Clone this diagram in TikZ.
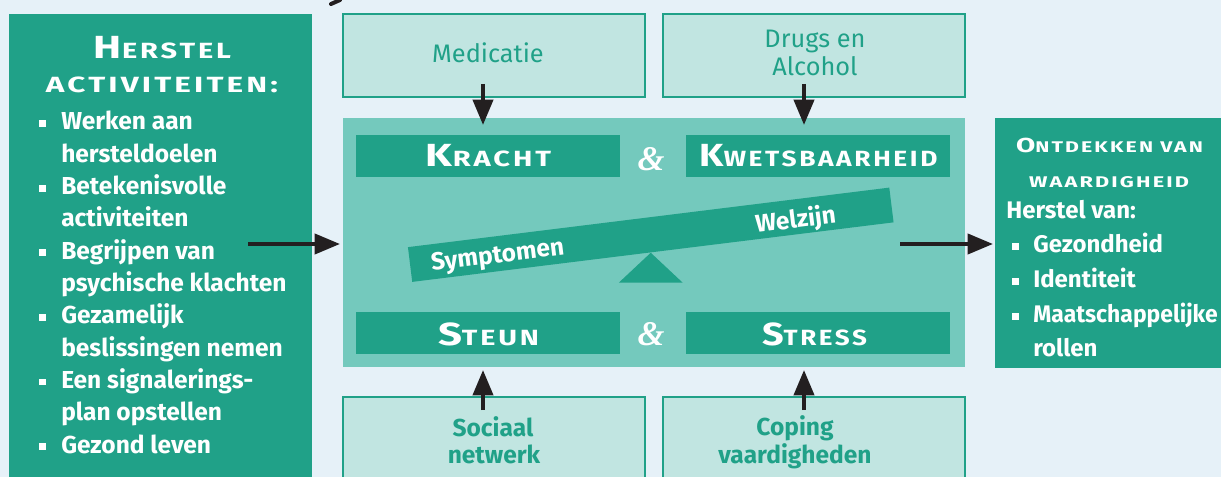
\documentclass[tikz,border=0pt]{standalone}
\usepackage{fontspec}
\usepackage{graphicx}
\setmainfont{Fira Sans}
\newfontfamily\ampf{Liberation Serif}
\usetikzlibrary{calc,fit,arrows.meta}
\definecolor{bgc}{HTML}{E6F1F8}
\definecolor{tealD}{HTML}{20A188}
\definecolor{tealM}{HTML}{74C9BD}
\definecolor{tealL}{HTML}{C1E5E1}
\definecolor{arrc}{HTML}{231F20}
\newcommand{\fsz}[1]{\fontsize{#1}{#1}\selectfont}
% small caps imitation: big size, small size, first letter, rest, target width
\newcommand{\scap}[5]{\resizebox{#5}{\height}{\bfseries\addfontfeature{LetterSpace=10}\fsz{#1}#3\fsz{#2}#4}}
\newcommand{\sqbul}[1]{\makebox[#1][l]{\raisebox{0.12em}{\rule{0.28em}{0.28em}}}}
\begin{document}
\begin{tikzpicture}[x=0.75pt,y=-0.75pt,
  box/.style={inner sep=0pt,outer sep=0pt},
  darkbox/.style={box,fill=tealD},
  midbox/.style={box,fill=tealM},
  lightbox/.style={box,fill=tealL,draw=tealD,line width=1.5pt},
  arr/.style={draw=arrc,line width=3pt,-{Triangle[length=19pt,width=15pt]}},
  txt/.style={inner sep=0pt,anchor=base},
  wtxt/.style={txt,text=white,font=\bfseries\fsz{18.4pt}},
  ttxt/.style={txt,text=tealD,font=\fsz{19pt}},
  tbtxt/.style={txt,text=tealD,font=\bfseries\fsz{18.4pt}},
  hdr/.style={txt,text=white},
  amp/.style={txt,text=white,font=\ampf\bfseries\itshape\fsz{26pt}},
  lst/.style={inner sep=0pt,anchor=base west,text=white,font=\bfseries\fsz{18.4pt}},
  rlst/.style={lst,font=\bfseries\fsz{18pt}}
]
\useasboundingbox (0,0) rectangle (1221,477);
\clip (0,0) rectangle (1221,477);
\fill[bgc] (0,0) rectangle (1221,477);
\draw[arrc,line width=3pt,line cap=round] (331,4) -- (340,0);

% boxes
\node[darkbox,fit={(9,14) (312,495)}] (hl) {};
\node[midbox,fit={(343,118) (965,367)}] (ctr) {};
\node[darkbox,fit={(995,118) (1230,368)}] (out) {};
\node[lightbox,fit={(343,14) (645,97)}] (med) {};
\node[lightbox,fit={(663,14) (965,97)}] (drg) {};
\node[lightbox,fit={(343,397) (645,495)}] (soc) {};
\node[lightbox,fit={(663,397) (965,495)}] (cop) {};
\node[darkbox,fit={(356,135) (620,177)}] (kra) {};
\node[darkbox,fit={(686,135) (950,177)}] (kwe) {};
\node[darkbox,fit={(356,312) (620,354)}] (ste) {};
\node[darkbox,fit={(686,312) (950,354)}] (str) {};

% balance
\node[darkbox,rotate=7.05,minimum width=363.75pt,minimum height=26.25pt] (beam) at (650.75,234.75) {};
\coordinate (apex) at ($(beam.center)+(0,18)$);
\fill[tealD] (apex) -- ++(32,30) -- ++(-64,0) -- cycle;
\node[wtxt,anchor=center,rotate=7.05] (sym) at ($(beam.center)+(-153,22)$) {Symptomen};
\node[wtxt,anchor=center,rotate=7.05] (wel) at ($(beam.center)+(145,-14)$) {Welzijn};

% bar labels
\node[hdr] (tkra) at (488.5,167) {\scap{24pt}{16.5pt}{K}{RACHT}{93.75pt}};
\node[hdr] (tkwe) at (818.5,167) {\scap{24pt}{16.5pt}{K}{WETSBAARHEID}{178.5pt}};
\node[hdr] (tste) at (488.5,345) {\scap{24pt}{16.5pt}{S}{TEUN}{75.75pt}};
\node[hdr] (tstr) at (814.5,345) {\scap{24pt}{16.5pt}{S}{TRESS}{78.75pt}};
\node[amp] (amp1) at (651,171) {\&};
\node[amp] (amp2) at (651,345) {\&};

% box labels
\node[ttxt] (tmed) at (488,63) {Medicatie};
\node[ttxt] (tdr1) at (815,48) {Drugs en};
\node[ttxt] (tdr2) at (815,76) {Alcohol};
\node[tbtxt] (tso1) at (493,436) {Sociaal};
\node[tbtxt] (tso2) at (494,463) {netwerk};
\node[tbtxt] (tco1) at (795,435) {Coping};
\node[tbtxt] (tco2) at (795,463) {vaardigheden};

% left list
\node[hdr] (h1) at (162.5,59) {\scap{24pt}{16.5pt}{H}{ERSTEL}{102.75pt}};
\node[hdr] (h2) at (162,93) {\scap{16.5pt}{16.5pt}{}{ACTIVITEITEN:}{174pt}};
\node[lst] (l1) at (39,130) {\sqbul{16.5pt}Werken aan};
\node[lst] (l2) at (39,162.3) {\hspace*{16.5pt}hersteldoelen};
\node[lst] (l3) at (39,194.6) {\sqbul{16.5pt}Betekenisvolle};
\node[lst] (l4) at (39,226.9) {\hspace*{16.5pt}activiteiten};
\node[lst] (l5) at (39,259.2) {\sqbul{16.5pt}Begrijpen van};
\node[lst] (l6) at (39,291.5) {\hspace*{16.5pt}psychische klachten};
\node[lst] (l7) at (39,323.8) {\sqbul{16.5pt}Gezamelijk};
\node[lst] (l8) at (39,356.1) {\hspace*{16.5pt}beslissingen nemen};
\node[lst] (l9) at (39,388.4) {\sqbul{16.5pt}Een signalerings-};
\node[lst] (l10) at (39,420.7) {\hspace*{16.5pt}plan opstellen};
\node[lst] (l11) at (39,453) {\sqbul{16.5pt}Gezond leven};

% right list
\node[hdr] (r1) at (1109.5,153) {\scap{15.2pt}{11.6pt}{O}{NTDEKKEN VAN}{140.25pt}};
\node[hdr] (r2) at (1109,188) {\scap{11.6pt}{11.6pt}{}{WAARDIGHEID}{120pt}};
\node[rlst] (r3) at (1006,219) {Herstel van:};
\node[rlst] (r4) at (1012,253) {\sqbul{15.75pt}Gezondheid};
\node[rlst] (r5) at (1012,288) {\sqbul{15.75pt}Identiteit};
\node[rlst] (r6) at (1012,323) {\sqbul{15.75pt}\scalebox{0.955}[1]{Maatschappelijke}};
\node[rlst] (r7) at (1012,357) {\hspace*{15.75pt}rollen};

% connectors
\draw[arr] ($(med.south)+(-11,-13)$) -- ($(med.south)+(-11,28)$);
\draw[arr] ($(drg.south)+(-10,-13)$) -- ($(drg.south)+(-10,28)$);
\draw[arr] ($(soc.north)+(-11,13)$) -- ($(soc.north)+(-11,-27)$);
\draw[arr] ($(cop.north)+(-10,13)$) -- ($(cop.north)+(-10,-27)$);
\draw[arr] ($(hl.east |- ctr.west)+(-64,1.5)$) -- ($(ctr.west)+(-3,1.5)$);
\draw[arr] ($(ctr.east)+(-65,1.5)$) -- ($(out.west |- ctr.east)+(-2,1.5)$);
\end{tikzpicture}
\end{document}
